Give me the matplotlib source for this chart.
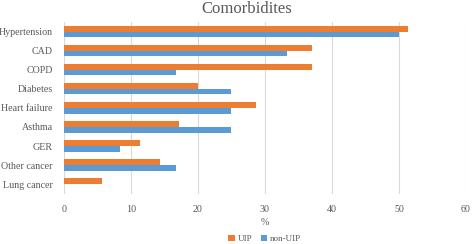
import matplotlib.pyplot as plt
import numpy as np

# Comorbidity prevalence (%) by group
categories = ['Hypertension', 'CAD', 'COPD', 'Diabetes', 'Heart failure',
              'Asthma', 'GER', 'Other cancer', 'Lung cancer']
uip = [51.4, 37.1, 37.1, 20.0, 28.6, 17.1, 11.4, 14.3, 5.7]
non_uip = [50.0, 33.3, 16.7, 25.0, 25.0, 25.0, 8.3, 16.7, 0.0]
xticks = [0, 10, 20, 30, 40, 50, 60]

plt.rcParams['font.family'] = ['Liberation Serif', 'DejaVu Serif']

fig = plt.figure(figsize=(4.72, 2.44), dpi=100)
ax = fig.add_axes([0.1356, 0.206, 0.8514, 0.704])

y = np.arange(len(categories))
h = 0.3
ax.barh(y - h / 2, uip, height=h, color='#ED7D31', label='UIP', zorder=3)
ax.barh(y + h / 2, non_uip, height=h, color='#5B9BD5', label='non-UIP', zorder=3)

ax.set_ylim(len(categories) - 0.5, -0.5)
ax.set_xlim(0, 60)
ax.set_xticks(xticks)
ax.set_yticks(y)
ax.set_yticklabels(categories)
ax.tick_params(axis='both', length=0, labelsize=7.2, colors='#595959')
ax.tick_params(axis='x', pad=8)
ax.tick_params(axis='y', pad=8)
ax.grid(axis='x', color='#D9D9D9', linewidth=0.8, zorder=0)
for s in ax.spines.values():
    s.set_visible(False)

ax.set_xlabel('%', fontsize=7.2, color='#595959', labelpad=3)
fig.text(0.523, 0.965, 'Comorbidites', fontsize=12, color='#595959',
         ha='center', va='center')

fig.legend(*ax.get_legend_handles_labels(), loc='center',
           bbox_to_anchor=(0.561, 0.02), ncol=2, frameon=False,
           fontsize=6.5, handlelength=0.7, handleheight=0.7, handletextpad=0.3,
           columnspacing=1.0, labelcolor='#595959', borderpad=0)

fig.savefig('out.png', dpi=100)
